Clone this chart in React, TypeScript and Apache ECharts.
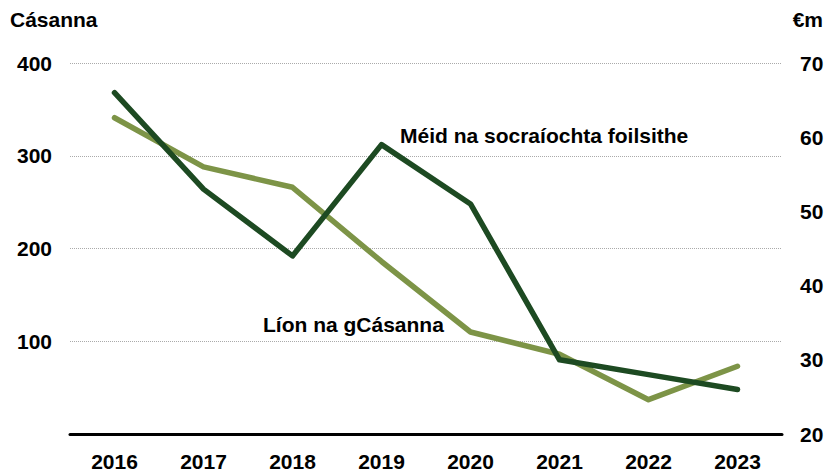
import React, { useEffect, useRef } from "react";
import * as echarts from "echarts";

const years = ["2016", "2017", "2018", "2019", "2020", "2021", "2022", "2023"];
const casesCount = [341, 288, 266, 186, 110, 86, 37, 73];
const settlementValue = [66, 53, 44, 59, 51, 30, 28, 26];
const leftTicks = { min: 0, max: 400, interval: 100 };
const rightTicks = { min: 20, max: 70, interval: 10 };

const FONT = "'Liberation Sans', Arial, sans-serif";
const DARK = "#1d4a22";
const LIGHT = "#7d9447";

export default function App() {
  const ref = useRef<HTMLDivElement>(null);
  useEffect(() => {
    if (!ref.current) return;
    const chart = echarts.init(ref.current, null, { renderer: "svg" });
    const labelStyle = { fontFamily: FONT, fontSize: 21, fontWeight: "bold" as const, color: "#000" };
    chart.setOption({
      animation: false,
      grid: { left: 70, right: 51, top: 63, bottom: 37, containLabel: false },
      xAxis: {
        type: "category",
        data: years,
        boundaryGap: true,
        axisLine: { show: true, lineStyle: { color: "#000", width: 3 } },
        axisTick: { show: false },
        axisLabel: { ...labelStyle, margin: 17 },
      },
      yAxis: [
        {
          type: "value",
          ...leftTicks,
          position: "left",
          axisLine: { show: false },
          axisTick: { show: false },
          axisLabel: { ...labelStyle, margin: 18, formatter: (v: number) => (v === 0 ? "" : String(v)) },
          splitLine: { show: true, lineStyle: { color: "#aaa", type: [1, 1], width: 1 } },
        },
        {
          type: "value",
          ...rightTicks,
          position: "right",
          axisLine: { show: false },
          axisTick: { show: false },
          axisLabel: { ...labelStyle, margin: 18 },
          splitLine: { show: false },
        },
      ],
      series: [
        {
          name: "Líon na gCásanna",
          type: "line",
          yAxisIndex: 0,
          data: casesCount,
          symbol: "none",
          lineStyle: { color: LIGHT, width: 5.5, cap: "round", join: "round" },
          z: 2,
        },
        {
          name: "Méid na socraíochta foilsithe",
          type: "line",
          yAxisIndex: 1,
          data: settlementValue,
          symbol: "none",
          lineStyle: { color: DARK, width: 5.5, cap: "round", join: "round" },
          z: 3,
        },
      ],
      graphic: [
        { type: "text", left: 10, top: 9, style: { text: "Cásanna", font: `bold 21px ${FONT}`, fill: "#000" } },
        { type: "text", right: 10, top: 9, style: { text: "€m", font: `bold 21px ${FONT}`, fill: "#000" } },
        { type: "text", left: 400, top: 125, style: { text: "Méid na socraíochta foilsithe", font: `bold 21px ${FONT}`, fill: "#000" } },
        { type: "text", left: 263, top: 314, style: { text: "Líon na gCásanna", font: `bold 21px ${FONT}`, fill: "#000" } },
      ],
    });
    return () => chart.dispose();
  }, []);
  return <div ref={ref} style={{ position: "fixed", left: 0, top: 0, width: 833, height: 472, background: "#fff" }} />;
}
